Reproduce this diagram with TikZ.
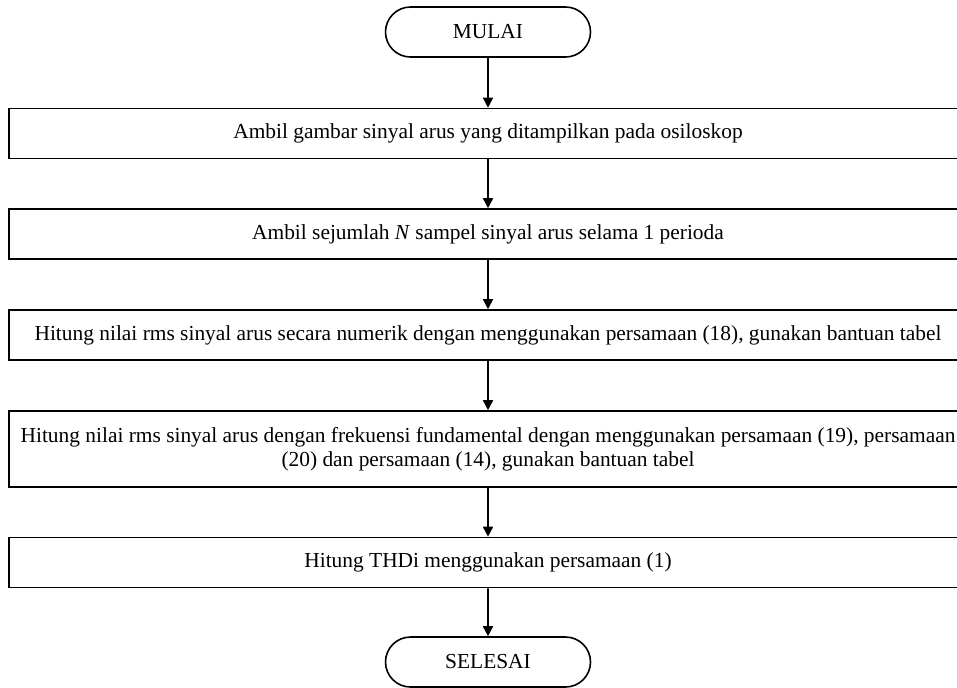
\documentclass[tikz,border=0pt]{standalone}
\usepackage{fontspec}
\setmainfont{Liberation Serif}
\usetikzlibrary{shapes.misc,arrows.meta}

\begin{document}
\begin{tikzpicture}[
        x=0.5pt, y=-0.5pt,
        every node/.style={draw, line width=0.8pt, inner sep=0pt, font=\fontsize{10.7}{12}\selectfont},
        terminal/.style={rounded rectangle, minimum width=102.5pt, minimum height=25pt},
        process/.style={rectangle, minimum width=479pt, minimum height=25pt, align=center},
        ->, >={Triangle[length=5pt,width=5pt]}, line width=0.8pt
        ]
    \clip (0,0) rectangle (957,687);
    \node[terminal] (mulai) at (488,32) {MULAI};
    \node[process] (ambil) at (488,133.5) {Ambil gambar sinyal arus yang ditampilkan pada osiloskop};
    \node[process] (sampel) at (488,234) {Ambil sejumlah \textit{N} sampel sinyal arus selama 1 perioda};
    \node[process] (rms) at (488,335) {Hitung nilai rms sinyal arus secara numerik dengan menggunakan persamaan (18), gunakan bantuan tabel};
    \node[process, minimum height=38pt] (fund) at (488,449) {Hitung nilai rms sinyal arus dengan frekuensi fundamental dengan menggunakan persamaan (19), persamaan\\(20) dan persamaan (14), gunakan bantuan tabel};
    \node[process] (thd) at (488,562.5) {Hitung THDi menggunakan persamaan (1)};
    \node[terminal] (selesai) at (488,662) {SELESAI};

    \draw (mulai) -- (ambil);
    \draw (ambil) -- (sampel);
    \draw (sampel) -- (rms);
    \draw (rms) -- (fund);
    \draw (fund) -- (thd);
    \draw (thd) -- (selesai);
\end{tikzpicture}
\end{document}
